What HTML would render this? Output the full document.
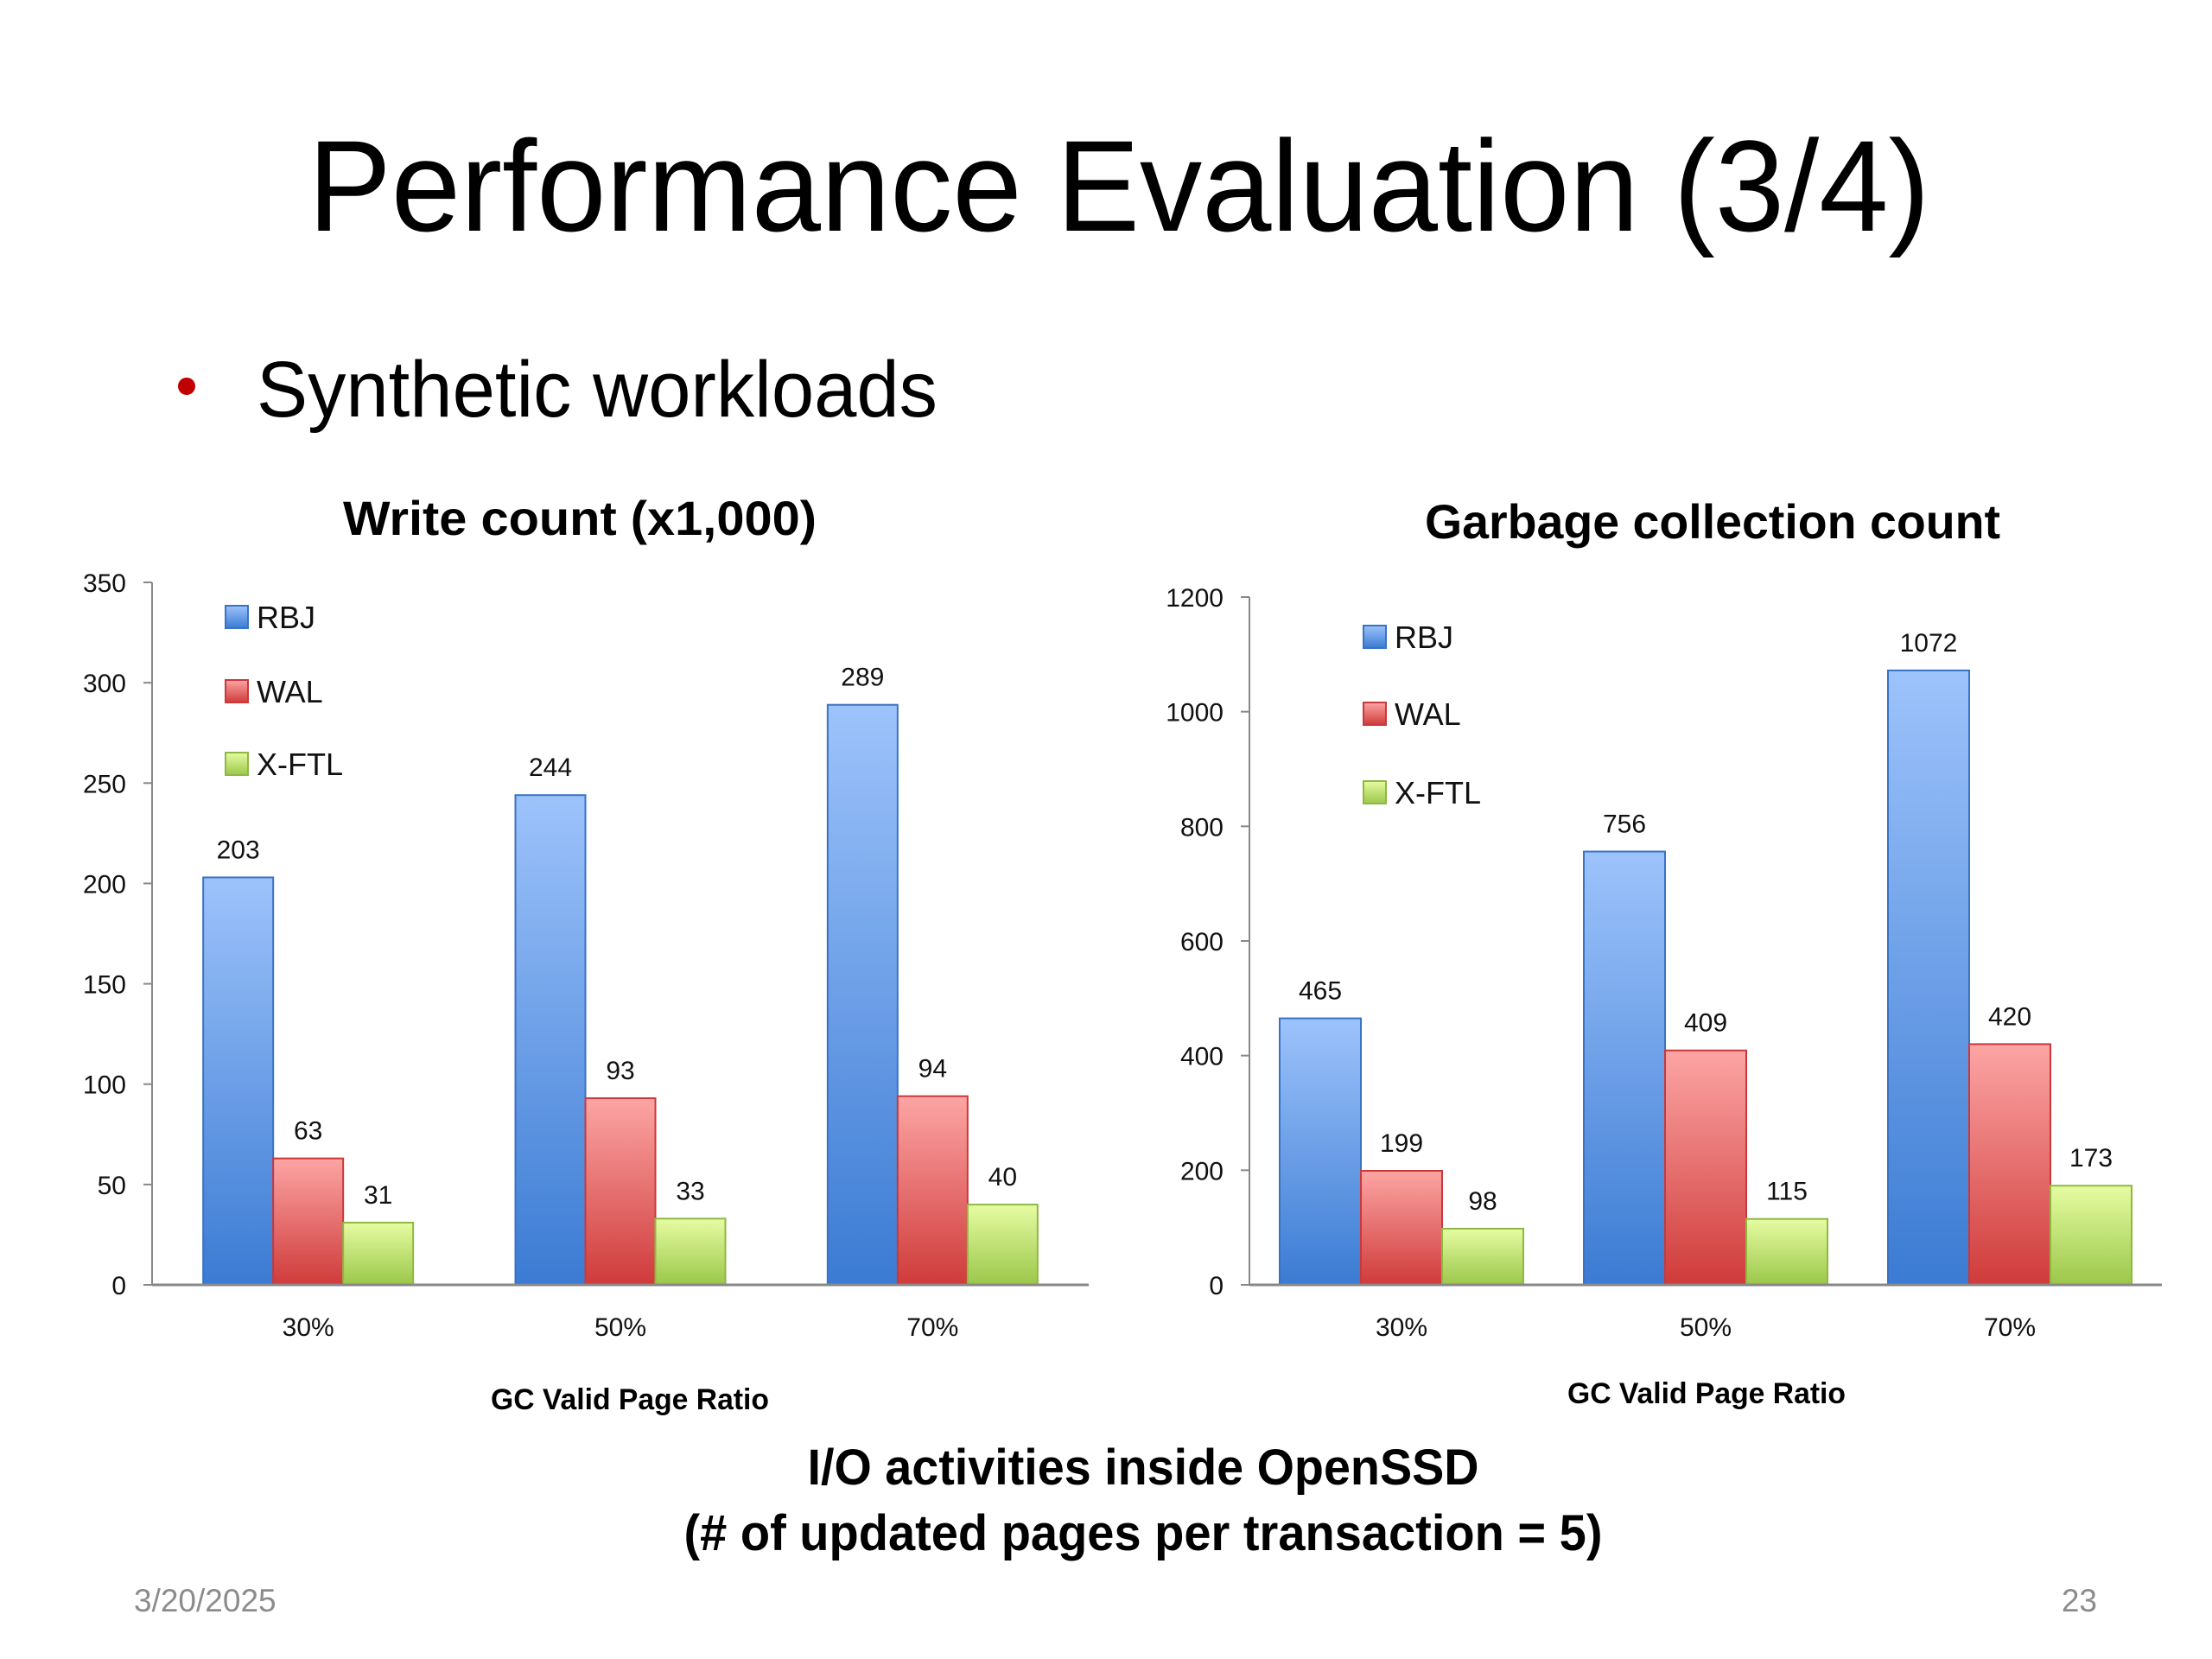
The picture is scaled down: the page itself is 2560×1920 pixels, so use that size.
<!DOCTYPE html>
<html><head><meta charset="utf-8"><style>
html,body{margin:0;padding:0;background:#fff;}
svg{display:block;font-family:"Liberation Sans",sans-serif;}
</style></head><body>
<svg id="s" width="2560" height="1920" viewBox="0 0 2560 1920" xmlns="http://www.w3.org/2000/svg">
<defs>
<linearGradient id="gb" x1="0" y1="0" x2="0" y2="1"><stop offset="0" stop-color="#9dc3fb"/><stop offset="1" stop-color="#3b7bd3"/></linearGradient>
<linearGradient id="gr" x1="0" y1="0" x2="0" y2="1"><stop offset="0" stop-color="#fca5a4"/><stop offset="1" stop-color="#cf3b3a"/></linearGradient>
<linearGradient id="gg" x1="0" y1="0" x2="0" y2="1"><stop offset="0" stop-color="#e6fca2"/><stop offset="1" stop-color="#9bc74a"/></linearGradient>
</defs>
<text x="1295" y="267" font-size="150" text-anchor="middle" textLength="1877" lengthAdjust="spacingAndGlyphs" fill="#000">Performance Evaluation (3/4)</text>
<circle cx="216" cy="447" r="10" fill="#c00000"/>
<text x="297" y="482" font-size="92" textLength="788" lengthAdjust="spacingAndGlyphs" fill="#000">Synthetic workloads</text>
<text x="1323" y="1718" font-size="58" font-weight="bold" text-anchor="middle" textLength="777" lengthAdjust="spacingAndGlyphs">I/O activities inside OpenSSD</text>
<text x="1323" y="1794" font-size="58" font-weight="bold" text-anchor="middle" textLength="1063" lengthAdjust="spacingAndGlyphs">(# of updated pages per transaction = 5)</text>
<text x="155" y="1865" font-size="37" fill="#8c8c8c">3/20/2025</text>
<text x="2427" y="1865" font-size="37" fill="#8c8c8c" text-anchor="end">23</text>
<g id="c1"></g><g id="c2"></g>
</svg>
<script>
const categories = ["30%", "50%", "70%"];
const seriesNames = ["RBJ", "WAL", "X-FTL"];
const writeRBJ = [203, 244, 289];
const writeWAL = [63, 93, 94];
const writeXFTL = [31, 33, 40];
const writeTicks = [0, 50, 100, 150, 200, 250, 300, 350];
const gcRBJ = [465, 756, 1072];
const gcWAL = [199, 409, 420];
const gcXFTL = [98, 115, 173];
const gcTicks = [0, 200, 400, 600, 800, 1000, 1200];

const NS = "http://www.w3.org/2000/svg";
const fills = ["url(#gb)", "url(#gr)", "url(#gg)"];
const strokes = ["#3a72c4", "#c9383a", "#8fb843"];
function mk(parent, tag, attrs, txt) {
  const e = document.createElementNS(NS, tag);
  for (const k in attrs) e.setAttribute(k, attrs[k]);
  if (txt !== undefined) e.textContent = txt;
  parent.appendChild(e);
  return e;
}
function chart(gid, o, series, ticks) {
  const g = document.getElementById(gid);
  const max = ticks[ticks.length - 1];
  const y = v => o.y0 - (v / max) * (o.y0 - o.yTop);
  const groupW = (o.xRight - o.xAxis) / categories.length;
  const x = i => o.xAxis + groupW * (i + 0.5);
  let t = mk(g, "text", {x: o.titleX, y: o.titleY, "font-size": 56, "font-weight": "bold", "text-anchor": "middle", textLength: o.titleW, lengthAdjust: "spacingAndGlyphs"}, o.title);
  
  
  ticks.forEach(v => {
    const l = mk(g, "line", {x1: o.xAxis - 10, x2: o.xAxis, y1: y(v), y2: y(v), stroke: "#888", "stroke-width": 2});
    
    
    const tl = mk(g, "text", {x: o.xAxis - 30, y: y(v) + 11, "font-size": 30, "text-anchor": "end", fill: "#111"}, String(v));
    
    
  });
  series.forEach((arr, s) => {
    arr.forEach((v, i) => {
      const bx = x(i) - 1.5 * o.bw + s * o.bw;
      const r = mk(g, "rect", {x: bx, y: y(v), width: o.bw, height: o.y0 - y(v), fill: fills[s], stroke: strokes[s], "stroke-width": 2});
      
      
      const lb = mk(g, "text", {x: bx + o.bw / 2, y: y(v) - 22, "font-size": 30, "text-anchor": "middle", fill: "#111"}, String(v));
      
      
    });
  });
  let a = mk(g, "line", {x1: o.xAxis, x2: o.xAxis, y1: o.yTop, y2: o.y0, stroke: "#888", "stroke-width": 2});
  
  
  a = mk(g, "line", {x1: o.xAxis, x2: o.xRight, y1: o.y0, y2: o.y0, stroke: "#888", "stroke-width": 3});
  
  
  categories.forEach((c, i) => {
    const cl = mk(g, "text", {x: x(i), y: o.y0 + 59, "font-size": 30, "text-anchor": "middle", fill: "#111"}, c);
    
    
  });
  t = mk(g, "text", {x: o.xtX, y: o.xtY, "font-size": 34, "font-weight": "bold", "text-anchor": "middle", textLength: 322, lengthAdjust: "spacingAndGlyphs"}, "GC Valid Page Ratio");
  
  
  seriesNames.forEach((n, s) => {
    const ly = o.legY[s];
    const sq = mk(g, "rect", {x: o.legX, y: ly - 13, width: 26, height: 26, fill: fills[s], stroke: strokes[s], "stroke-width": 2});
    
    
    const lt = mk(g, "text", {x: o.legX + 36, y: ly + 13, "font-size": 36, fill: "#111"}, n);
    
    
  });
}
chart("c1", {prefix: "write", title: "Write count (x1,000)", titleX: 671, titleY: 619, titleW: 548,
  xAxis: 176, xRight: 1260, y0: 1487, yTop: 674, bw: 81, xtX: 729, xtY: 1631, legX: 261, legY: [714, 800, 884]},
  [writeRBJ, writeWAL, writeXFTL], writeTicks);
chart("c2", {prefix: "gc", title: "Garbage collection count", titleX: 1982, titleY: 623, titleW: 666,
  xAxis: 1446, xRight: 2502, y0: 1487, yTop: 691, bw: 94, xtX: 1975, xtY: 1624, legX: 1578, legY: [737, 826, 917]},
  [gcRBJ, gcWAL, gcXFTL], gcTicks);
</script>
</body></html>
